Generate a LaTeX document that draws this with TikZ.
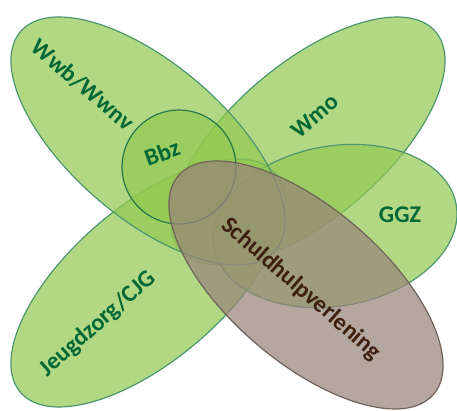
\documentclass[tikz,border=0pt]{standalone}
\usepackage{fontspec}
\setmainfont{Carlito}
\usetikzlibrary{calc}
\definecolor{vert}{RGB}{146,200,80}
\definecolor{bordvert}{RGB}{78,150,110}
\definecolor{bordbbz}{RGB}{40,118,76}
\definecolor{brun}{RGB}{152,133,122}
\definecolor{bordbrun}{RGB}{110,98,89}
\definecolor{textevert}{RGB}{0,104,55}
\definecolor{textebrun}{RGB}{62,32,16}

\begin{document}
\begin{tikzpicture}[x=1pt,y=-1pt,
	zone/.style={fill=vert,fill opacity=0.7,draw=bordvert,line width=1.2pt},
	zonebrun/.style={fill=brun,fill opacity=0.72,draw=bordbrun,line width=1.2pt},
	etiquette/.style={font=\bfseries\fontsize{24}{28}\selectfont,text=textevert,inner sep=0pt}]
			          %cadre de l'image
			          \useasboundingbox (0,0) rectangle (457,411);
			          
			          %centres des zones
			          \coordinate (c_wwb) at (148,141);
			          \coordinate (c_wmo) at (308,141);
			          \coordinate (c_jeugd) at (148,283);
			          \coordinate (c_ggz) at (335,226);
			          \coordinate (c_bbz) at (179,167);
			          \coordinate (c_schuld) at (306,285);
			          
			          \draw[zone,rotate around={40.6:(c_wmo)}] (c_wmo) ellipse [x radius=168,y radius=77];
			          \draw[zone,rotate around={40.6:(c_jeugd)}] (c_jeugd) ellipse [x radius=168,y radius=77];
			          \draw[zone,rotate around={10:(c_ggz)}] (c_ggz) ellipse [x radius=123,y radius=80];
			          \draw[zone,rotate around={-40.6:(c_wwb)}] (c_wwb) ellipse [x radius=168,y radius=77];
			          \draw[zone,draw=bordbbz] (c_bbz) circle [radius=57];
			          \draw[zonebrun,rotate around={-40.6:(c_schuld)}] (c_schuld) ellipse [x radius=168,y radius=77];
			          
			          %textes
			          \node[etiquette,rotate=-40.6] (t_wwb) at (83,85) {Wwb/Wwnv};
			          \node[etiquette,rotate=40.6] (t_wmo) at (315,116) {Wmo};
			          \node[etiquette,rotate=20] (t_bbz) at (162,153) {Bbz};
			          \node[etiquette] (t_ggz) at (400,215) {GGZ};
			          \node[etiquette,rotate=41.5] (t_jeugd) at (98,324) {Jeugdzorg/CJG};
			          \node[etiquette,text=textebrun,rotate=-41] (t_schuld) at (301,289) {Schuldhulpverlening};
				  \end{tikzpicture}
\end{document}
